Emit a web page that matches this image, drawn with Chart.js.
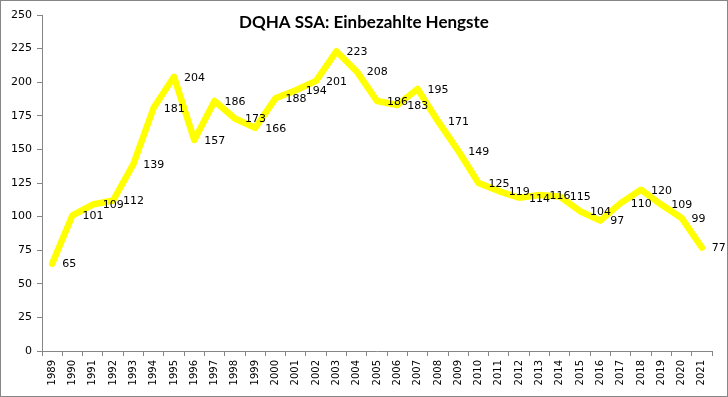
<!DOCTYPE html>
<html>
<head>
<meta charset="utf-8">
<script src="https://cdn.jsdelivr.net/npm/chart.js@4"></script>
<style>
  body { margin: 0; background: #fff; }
  #wrap { width: 728px; height: 397px; border: 1px solid #868686; box-sizing: border-box; }
</style>
</head>
<body>
<div id="wrap"><canvas id="myChart" width="726" height="395"></canvas></div>
<script>
// DQHA SSA - einbezahlte Hengste pro Jahr
const chartTitle = 'DQHA SSA: Einbezahlte Hengste';
const years = ['1989','1990','1991','1992','1993','1994','1995','1996','1997','1998','1999',
  '2000','2001','2002','2003','2004','2005','2006','2007','2008','2009','2010',
  '2011','2012','2013','2014','2015','2016','2017','2018','2019','2020','2021'];
const stallions = [65, 101, 109, 112, 139, 181, 204, 157, 186, 173, 166,
  188, 194, 201, 223, 208, 186, 183, 195, 171, 149, 125,
  119, 114, 116, 115, 104, 97, 110, 120, 109, 99, 77];
const yTicks = [0, 250, 25]; // min, max, step

const canvas = document.getElementById('myChart');
const ctx = canvas.getContext('2d');

// draws the numbers next to the points + the title (Excel style)
const labelPlugin = {
  id: 'labelPlugin',
  afterDatasetsDraw(chart) {
    const c = chart.ctx;
    const meta = chart.getDatasetMeta(0);
    c.save();
    c.fillStyle = '#000';
    c.font = '11px "DejaVu Sans"';
    c.textAlign = 'left';
    c.textBaseline = 'middle';
    meta.data.forEach((pt, i) => {
      c.fillText(stallions[i], pt.x + 10, pt.y + 1);
    });
    c.font = 'bold 17px Lato';
    c.textAlign = 'center';
    c.textBaseline = 'alphabetic';
    c.fillText(chartTitle, 363, 27);
    c.restore();
  }
};

const data = {
  labels: years,
  datasets: [{
    label: 'Einbezahlte Hengste',
    data: stallions,
    borderColor: '#FFFF00',
    backgroundColor: '#FFFF00',
    borderWidth: 6.5,
    borderJoinStyle: 'round',
    borderCapStyle: 'round',
    pointRadius: 0,
    tension: 0
  }]
};

const config = {
  type: 'line',
  data: data,
  plugins: [labelPlugin],
  options: {
    responsive: false,
    animation: false,
    layout: { padding: { top: 14, right: 15, left: 0, bottom: 0 } },
    plugins: {
      legend: { display: false },
      title: { display: false },
      tooltip: { enabled: false }
    },
    scales: {
      x: {
        offset: true,
        afterFit(scale) { scale.height = 45; },
        grid: { offset: true, drawOnChartArea: false, drawTicks: true, tickLength: 5, color: '#868686' },
        border: { color: '#868686' },
        ticks: {
          autoSkip: false, maxRotation: 90, minRotation: 90, padding: 4,
          color: '#000', font: { family: 'DejaVu Sans', size: 10 }
        }
      },
      y: {
        min: yTicks[0],
        max: yTicks[1],
        afterFit(scale) { scale.width = 41; },
        grid: { drawOnChartArea: false, drawTicks: true, tickLength: 5, color: '#868686' },
        border: { color: '#868686' },
        ticks: {
          stepSize: yTicks[2], padding: 5,
          color: '#000', font: { family: 'DejaVu Sans', size: 11 }
        }
      }
    }
  }
};

const myChart = new Chart(ctx, config);
</script>
</body>
</html>
